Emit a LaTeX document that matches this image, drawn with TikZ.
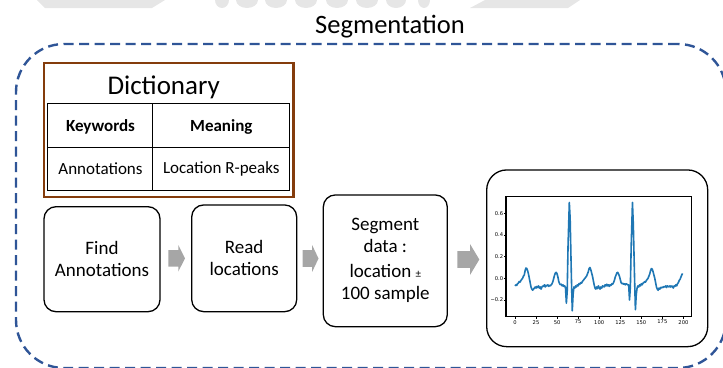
\documentclass[tikz,border=0pt]{standalone}
\usepackage{fontspec}
\setmainfont{Carlito}
\newfontfamily\tickfont{DejaVu Sans}
\definecolor{frameblue}{HTML}{2F5597}
\definecolor{dictbrown}{HTML}{843C0C}
\definecolor{ecgblue}{HTML}{1F77B4}
\definecolor{arrowgray}{HTML}{A6A6A6}
\definecolor{markgray}{HTML}{E6E6E6}

% gray block arrow: #1,#2 = tail centre, #3 = shaft length, #4 = head length,
% #5 = shaft half height, #6 = head half height
\newcommand\blockarr[6]{%
  \fill[arrowgray] (#1,#2-#5) -- ++(#3,0) -- ++(0,#5-#6) -- (#1+#3+#4,#2)
    -- (#1+#3,#2+#6) -- ++(0,#5-#6) -- (#1,#2+#5) -- cycle;}

\begin{document}
\begin{tikzpicture}[x=1pt,y=-1pt,
  procbox/.style={draw=black, line width=1.3pt, rounded corners=12pt, fill=white,
    inner sep=0pt, align=center, font=\fontsize{19}{23}\selectfont},
  celltext/.style={font=\fontsize{17}{20}\selectfont},
  headtext/.style={font=\fontsize{17}{20}\selectfont\bfseries},
  ticklab/.style={font=\tickfont\fontsize{5.2}{6}\selectfont, inner sep=0.5pt}]
\useasboundingbox (0,0) rectangle (723,367);

% faint watermark edge along the top
\begin{scope}[markgray]
  \fill (37,0) -- (165,0) -- (152,8) -- (45,8) -- cycle;
  \foreach \cx/\rx in {222/7,247/11,276/11,306/11,337/11,367/11,396/10,424/6}
    \fill (\cx,0) ellipse [x radius=\rx, y radius=8];
  \fill (485,0) -- (580,0) -- (568,8) -- (470,8) -- cycle;
\end{scope}

% outer dashed segmentation frame
\node[draw=frameblue, line width=2.4pt, dash pattern=on 10pt off 5.5pt,
  rounded corners=48pt, minimum width=710pt, minimum height=324pt, inner sep=0pt]
  (frame) at (371,206) {};
\node[font=\fontsize{26.5}{30}\selectfont] (title) at (390,27) {Segmentation};

% dictionary table
\node[draw=dictbrown, line width=2.4pt, minimum width=249.3pt, minimum height=134pt,
  inner sep=0pt] (dict) at (168.7,129.7) {};
\node[font=\fontsize{27}{32}\selectfont] (dicttitle) at (163.7,87.5) {Dictionary};
\draw[line width=1.4pt] (47.3,103.3) rectangle (289.3,190.7);
\draw[line width=1.4pt] (47.3,147.3) -- (289.3,147.3);
\draw[line width=1.4pt] (152.7,103.3) -- (152.7,190.7);
\node[headtext] (kw) at (100.5,126.7) {Keywords};
\node[headtext] (mn) at (221.3,126.7) {Meaning};
\node[celltext] (an) at (100.5,168.5) {Annotations};
\node[celltext] (lr) at (221.3,168.5) {Location R-peaks};

% processing steps
\node[procbox, minimum width=116pt, minimum height=105pt] (find) at (102,259.2)
  {Find\\[-1pt]Annotations};
\node[procbox, minimum width=105pt, minimum height=106.7pt] (read) at (244.2,258.3)
  {Read\\[-1pt]locations};
\node[procbox, minimum width=124pt, minimum height=131.7pt] (seg) at (385.3,260.8)
  {Segment\\[-1pt]data :\\[2pt]location {\fontsize{11}{13}\selectfont ±}\\[-1pt]100 sample};
\node[procbox, rounded corners=20pt, minimum width=221pt, minimum height=176.7pt]
  (plotbox) at (597.2,258.3) {};

\blockarr{168.3}{258.3}{10}{6.7}{8.3}{13.3}
\blockarr{302.7}{258.5}{9.5}{6.3}{8.3}{13.3}
\blockarr{457.3}{259.5}{12.7}{9.3}{8.3}{15.5}

% segmented ECG trace
\begin{scope}[shift={(515,278.3)}, x=0.842pt, y=108.3pt]
  \draw[line width=1.1pt] (-10.7,-0.355) rectangle (210,0.753);
  \foreach \v in {0,25,...,200}{
    \draw[line width=0.5pt] (\v,-0.355) -- (\v,-0.375);
    \node[ticklab, anchor=north] at (\v,-0.38) {\v};}
  \foreach \v/\t in {0.6/0.6,0.4/0.4,0.2/0.2,0/0.0,-0.2/−0.2}{
    \draw[line width=0.5pt] (-10.7,\v) -- (-12.9,\v);
    \node[ticklab, anchor=east] at (-13.2,\v) {\t};}
  \draw[ecgblue, line width=1.6pt, line join=round] plot coordinates {
    (0,-0.07) (1,-0.06) (2,-0.065) (3,-0.05) (4,-0.045) (5,-0.03) (6,-0.035)
    (7,-0.02) (8,-0.01) (9,0.0) (10,0.02) (11,0.03) (12,0.07) (13,0.095)
    (14,0.09) (15,0.07) (16,0.04) (17,0.0) (18,-0.04) (19,-0.08) (20,-0.1)
    (21,-0.11) (22,-0.1) (23,-0.09) (24,-0.08) (25,-0.09) (26,-0.075)
    (27,-0.085) (28,-0.07) (29,-0.09) (30,-0.08) (31,-0.1) (32,-0.08)
    (33,-0.07) (34,-0.075) (35,-0.06) (36,-0.08) (37,-0.065) (38,-0.07)
    (39,-0.06) (40,-0.075) (41,-0.065) (42,-0.07) (43,-0.06) (44,-0.05)
    (45,-0.03) (46,0.0) (47,0.03) (48,0.05) (49,0.055) (50,0.04) (51,0.01)
    (52,-0.03) (53,-0.05) (54,-0.06) (55,-0.055) (56,-0.07) (57,-0.06)
    (58,-0.075) (59,-0.07) (60,-0.09) (61,-0.23) (62,-0.12) (63,0.3)
    (64.5,0.7) (65.5,0.55) (67,0.0) (68,-0.3) (69,-0.15) (70,-0.08)
    (71,-0.09) (72,-0.07) (73,-0.08) (74,-0.06) (75,-0.07) (76,-0.05)
    (77,-0.055) (78,-0.04) (79,-0.045) (80,-0.03) (81,-0.02) (82,-0.01)
    (83,0.0) (84,0.01) (85,0.02) (86,0.04) (87,0.06) (88,0.09) (89,0.1)
    (90,0.08) (91,0.05) (92,0.02) (93,-0.02) (94,-0.06) (95,-0.09) (96,-0.1)
    (97,-0.08) (98,-0.095) (99,-0.07) (100,-0.085) (101,-0.1) (102,-0.08)
    (103,-0.09) (104,-0.07) (105,-0.075) (106,-0.08) (107,-0.06) (108,-0.07)
    (109,-0.055) (110,-0.07) (111,-0.06) (112,-0.075) (113,-0.06)
    (114,-0.065) (115,-0.05) (116,-0.055) (117,-0.04) (118,-0.02) (119,0.01)
    (120,0.03) (121,0.05) (122,0.055) (123,0.04) (124,0.02) (125,-0.01)
    (126,-0.04) (127,-0.05) (128,-0.045) (129,-0.055) (130,-0.05)
    (131,-0.06) (132,-0.05) (133,-0.055) (134,-0.06) (135,-0.06) (136,-0.2)
    (137,-0.08) (138,0.3) (139.5,0.7) (140.5,0.5) (142,0.0) (143,-0.29)
    (144,-0.15) (145,-0.09) (146,-0.07) (147,-0.08) (148,-0.06) (149,-0.07)
    (150,-0.05) (151,-0.06) (152,-0.045) (153,-0.04) (154,-0.03)
    (155,-0.035) (156,-0.02) (157,-0.01) (158,0.0) (159,0.02) (160,0.04)
    (161,0.07) (162,0.09) (163,0.085) (164,0.06) (165,0.03) (166,0.0)
    (167,-0.04) (168,-0.08) (169,-0.1) (170,-0.11) (171,-0.09) (172,-0.1)
    (173,-0.085) (174,-0.09) (175,-0.08) (176,-0.085) (177,-0.075)
    (178,-0.08) (179,-0.07) (180,-0.085) (181,-0.07) (182,-0.075)
    (183,-0.08) (184,-0.07) (185,-0.08) (186,-0.07) (187,-0.075)
    (188,-0.09) (189,-0.07) (190,-0.075) (191,-0.06) (192,-0.07)
    (193,-0.05) (194,-0.04) (195,-0.02) (196,-0.01) (197,0.01) (198,0.03)
    (199,0.045)};
\end{scope}
\end{tikzpicture}
\end{document}
